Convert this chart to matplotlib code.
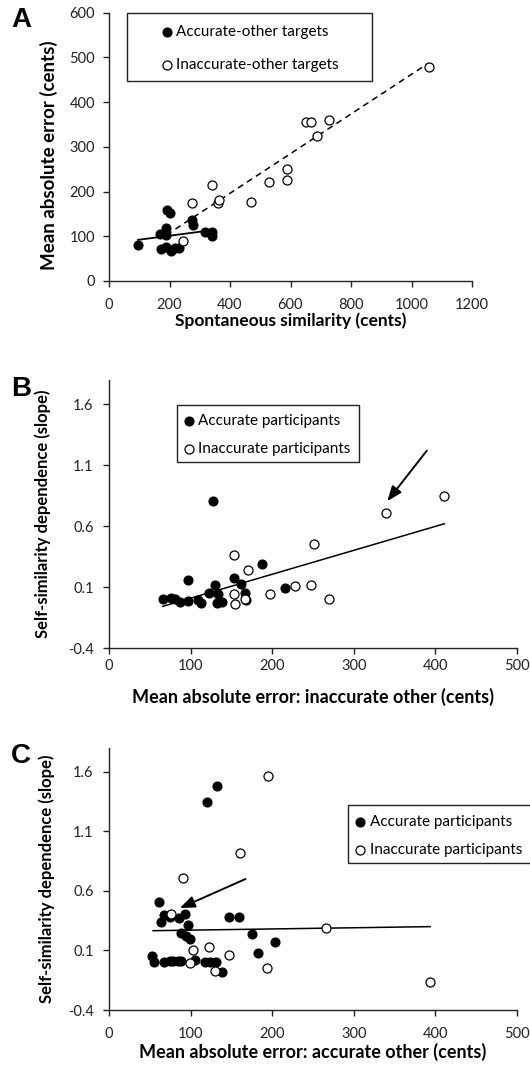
import matplotlib
matplotlib.use("Agg")
import matplotlib.pyplot as plt
from matplotlib.patches import Rectangle

plt.rcParams['font.family'] = ['Lato', 'DejaVu Sans']

# ---- Panel A: spontaneous similarity vs mean absolute error
a_acc_x = [96, 170, 190, 192, 201, 273, 278, 317, 342, 342, 171, 190, 206, 217, 232, 190]
a_acc_y = [80, 104, 118, 159, 151, 136, 125, 110, 110, 101, 71, 75, 68, 73, 73, 103]
a_inacc_x = [245, 276, 341, 361, 364, 469, 529, 587, 589, 651, 668, 687, 728, 1058]
a_inacc_y = [90, 174, 215, 174, 181, 176, 222, 250, 226, 356, 356, 324, 360, 478]
a_trend_acc_x = [96, 344]
a_trend_acc_y = [92, 114]
a_trend_inacc_x = [190, 1056]
a_trend_inacc_y = [103, 487]

# ---- Panel B: mean abs error (inaccurate other) vs slope
b_acc_x = [128, 66.5, 76.5, 80.6, 86.7, 97, 109, 113, 97, 123, 130, 134, 132.5, 139,
           153, 162, 167, 168.5, 188, 216]
b_acc_y = [0.805, 0.0, 0.013, 0.0, -0.023, -0.015, -0.01, -0.03, 0.155, 0.05, 0.12, 0.046,
           -0.03, -0.023, 0.174, 0.125, 0.05, -0.003, 0.29, 0.09]
b_inacc_x = [152.6, 170, 153, 154.6, 166.6, 197, 227.5, 248, 269, 251, 339.5, 411]
b_inacc_y = [0.36, 0.24, 0.04, -0.04, 0.005, 0.046, 0.11, 0.12, 0.005, 0.455, 0.71, 0.85]
b_trend_x = [66, 411]
b_trend_y = [-0.058, 0.62]
b_arrow_tail = (389.5, 1.22)
b_arrow_head = (341, 0.805)

# ---- Panel C: mean abs error (accurate other) vs slope
c_acc_x = [119.5, 132.5, 61, 63.4, 67.5, 75.3, 85.5, 93.7, 96.6, 88, 94, 99, 147, 159.5,
           174.7, 204, 182.5, 53, 55, 67.5, 75, 79, 85, 88, 106, 118, 124, 131, 138.7]
c_acc_y = [1.345, 1.477, 0.51, 0.342, 0.398, 0.384, 0.376, 0.41, 0.31, 0.244, 0.224, 0.2,
           0.384, 0.384, 0.24, 0.17, 0.076, 0.054, 0.006, 0.006, 0.008, 0.008, 0.008, 0.008,
           0.02, 0.006, 0.006, 0.0, -0.081]
c_inacc_x = [194.3, 160.8, 90.8, 75.7, 266, 103.5, 123, 147, 99, 129.7, 193.5, 393]
c_inacc_y = [1.566, 0.92, 0.707, 0.41, 0.287, 0.1, 0.127, 0.062, -0.003, -0.072, -0.05, -0.162]
c_trend_x = [54, 393.5]
c_trend_y = [0.266, 0.3]
c_arrow_tail = (167.3, 0.70)
c_arrow_head = (86.7, 0.455)

slope_ticks = [-0.4, 0.1, 0.6, 1.1, 1.6]
slope_labels = ['-0.4', '0.1', '0.6', '1.1', '1.6']

W, H = 530, 1072
fig = plt.figure(figsize=(W / 100, H / 100), dpi=100)
LEG_FS = 11
FS_PX = LEG_FS * 100 / 72


def px_axes(x0, y0, x1, y1):
    return fig.add_axes([x0 / W, 1 - y1 / H, (x1 - x0) / W, (y1 - y0) / H])


def style(ax, xpad, ypad):
    for s in ['top', 'right']:
        ax.spines[s].set_visible(False)
    for s in ['left', 'bottom']:
        ax.spines[s].set_linewidth(1.0)
        ax.spines[s].set_color('#222222')
    ax.tick_params(direction='out', length=4.5, width=1.0, labelsize=10.5,
                   colors='#222222', labelcolor='#222222')
    ax.tick_params(axis='x', pad=xpad)
    ax.tick_params(axis='y', pad=ypad)


def labels(ax, xl, yl, size_x, size_y, xl_y, yl_x, yl_y=0.5):
    ax.set_xlabel(xl, fontsize=size_x, fontweight='bold')
    ax.set_ylabel(yl, fontsize=size_y, fontweight='bold')
    ax.xaxis.set_label_coords(0.5, xl_y)
    ax.yaxis.set_label_coords(yl_x, yl_y)
    ax.xaxis.label.set_va('center')
    ax.yaxis.label.set_va('center')


def scatter_pair(ax, ax_, ay_, ix, iy, lab_a, lab_i):
    ax.scatter(ax_, ay_, s=42, facecolor='black', edgecolor='black', linewidth=0.8,
               zorder=3, label=lab_a, clip_on=False)
    ax.scatter(ix, iy, s=42, facecolor='white', edgecolor='black', linewidth=0.9,
               zorder=3, label=lab_i, clip_on=False)


def legend_box(ax, box, marker_x, row1_y, row_gap, text_gap):
    hl = 0.6
    row_h = 14.5
    htp = (text_gap - hl * FS_PX / 2) / FS_PX
    ax.legend(loc='upper left',
              bbox_to_anchor=((marker_x - hl * FS_PX / 2) / W, 1 - (row1_y - row_h / 2) / H),
              bbox_transform=fig.transFigure, borderaxespad=0, borderpad=0,
              fontsize=LEG_FS, frameon=False, handletextpad=htp, handlelength=hl,
              labelspacing=(row_gap - row_h) / FS_PX, scatterpoints=1)
    x0, y0, x1, y1 = box
    fig.add_artist(Rectangle((x0 / W, 1 - y1 / H), (x1 - x0) / W, (y1 - y0) / H,
                             transform=fig.transFigure, fill=False, lw=1.0,
                             edgecolor='#222222'))


# Panel A
axA = px_axes(109, 12.7, 472, 281)
scatter_pair(axA, a_acc_x, a_acc_y, a_inacc_x, a_inacc_y,
             'Accurate-other targets', 'Inaccurate-other targets')
axA.plot(a_trend_acc_x, a_trend_acc_y, color='black', lw=1.3, zorder=2)
axA.plot(a_trend_inacc_x, a_trend_inacc_y, color='black', lw=1.1, ls=(0, (4, 3)), zorder=2)
axA.set_xlim(0, 1200)
axA.set_ylim(0, 600)
axA.set_xticks(range(0, 1201, 200))
axA.set_yticks(range(0, 601, 100))
style(axA, 7.5, 5.5)
labels(axA, 'Spontaneous similarity (cents)', 'Mean absolute error (cents)',
       12.5, 13.5, -40 / 268.3, -60 / 363, 0.47)
legend_box(axA, (127, 13, 372, 81), 167, 32, 34, 9)

# Panel B
axB = px_axes(109, 380, 517, 648)
scatter_pair(axB, b_acc_x, b_acc_y, b_inacc_x, b_inacc_y,
             'Accurate participants', 'Inaccurate participants')
axB.plot(b_trend_x, b_trend_y, color='black', lw=1.1, zorder=2)
axB.annotate('', xy=b_arrow_head, xytext=b_arrow_tail,
             arrowprops=dict(arrowstyle='-|>,head_length=0.9,head_width=0.35',
                             color='black', lw=1.4, shrinkA=0, shrinkB=0))
axB.set_xlim(0, 500)
axB.set_ylim(-0.4, 1.8)
axB.set_xticks(range(0, 501, 100))
axB.set_yticks(slope_ticks)
axB.set_yticklabels(slope_labels)
style(axB, 3.2, 6.5)
labels(axB, 'Mean absolute error: inaccurate other (cents)',
       'Self-similarity dependence (slope)', 13, 12, -49 / 268, -66 / 408)
legend_box(axB, (177, 405, 359, 462), 189, 421, 28.5, 9)

# Panel C
axC = px_axes(109, 748, 517, 1010)
scatter_pair(axC, c_acc_x, c_acc_y, c_inacc_x, c_inacc_y,
             'Accurate participants', 'Inaccurate participants')
axC.plot(c_trend_x, c_trend_y, color='black', lw=1.1, zorder=2)
axC.annotate('', xy=c_arrow_head, xytext=c_arrow_tail,
             arrowprops=dict(arrowstyle='-|>,head_length=0.9,head_width=0.35',
                             color='black', lw=1.4, shrinkA=0, shrinkB=0))
axC.set_xlim(0, 500)
axC.set_ylim(-0.4, 1.8)
axC.set_xticks(range(0, 501, 100))
axC.set_yticks(slope_ticks)
axC.set_yticklabels(slope_labels)
style(axC, 7.5, 6.5)
labels(axC, 'Mean absolute error: accurate other (cents)',
       'Self-similarity dependence (slope)', 13, 12, -42 / 262, -62 / 408)
legend_box(axC, (348, 805, 531, 863), 360, 822, 28.5, 10)

# panel letters
for letter, y in [('A', 20), ('B', 389), ('C', 756)]:
    fig.text(11 / W, 1 - y / H, letter, fontsize=20, fontweight='bold',
             family='Liberation Sans', va='center', ha='left')

fig.savefig('out.png', dpi=100)
